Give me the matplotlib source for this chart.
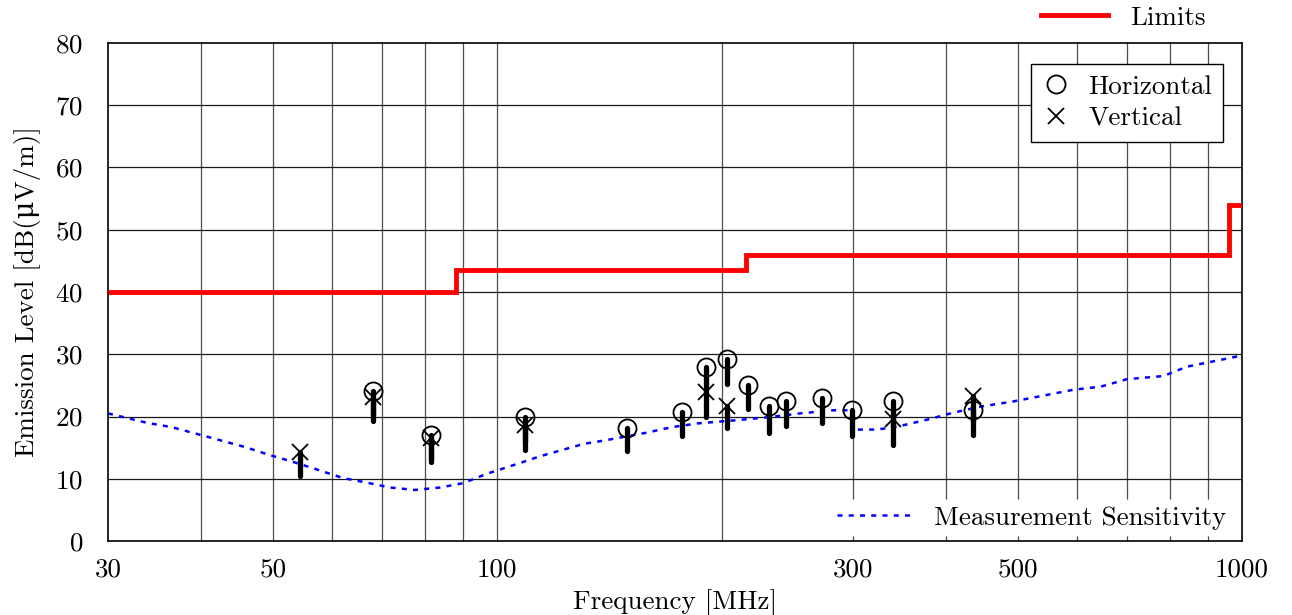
import numpy as np
import matplotlib.pyplot as plt
from matplotlib.lines import Line2D

plt.rcParams['font.family'] = ['cmr10', 'DejaVu Serif']
plt.rcParams['axes.formatter.use_mathtext'] = True
plt.rcParams['font.size'] = 19.5

# limit line (step edges in MHz, level in dB(uV/m))
lim_edges = [30, 88, 216, 960, 1000]
lim_levels = [40, 43.5, 46, 54]

# measurement sensitivity
sens_f = [30, 33.8, 36.5, 39.5, 42.4, 45.8, 49.5, 53.2, 57.2, 62.1, 66.7, 71.7, 77.5,
          83.8, 90, 96.8, 108.3, 114, 130.6, 140, 158.6, 171.7, 186, 209, 232, 255,
          282.7, 299, 300, 322, 338, 348, 378, 409, 446, 492, 594, 646, 701, 784,
          843, 910, 981, 1000]
sens_v = [20.5, 19.0, 18.3, 17.2, 16.2, 15.1, 13.8, 12.7, 11.5, 10.1, 9.4, 8.6, 8.2,
          8.6, 9.3, 10.8, 12.7, 13.6, 15.6, 16.2, 17.4, 18.3, 18.9, 19.4, 19.9, 20.5,
          21.0, 21.0, 17.9, 17.9, 18.2, 18.5, 19.5, 20.6, 21.6, 22.4, 24.3, 24.8, 26.0,
          26.5, 28.0, 28.8, 29.6, 29.9]

# horizontal polarisation
h_f = [68.0, 81.5, 108.9, 149.3, 176.9, 190.7, 203.6, 217.3, 231.9, 244.1, 272.7,
       299.2, 340.2, 435.9]
h_v = [24.1, 17.0, 19.9, 18.1, 20.8, 28.0, 29.2, 25.1, 21.7, 22.5, 22.9, 21.0, 22.5, 21.0]
h_low = [20.2, 13.1, 16.0, 14.4, 16.9, 24.0, 25.2, 21.2, 17.4, 18.4, 18.9, 16.9, 18.5, 17.0]

# vertical polarisation
v_f = [54.3, 68.0, 81.5, 108.9, 190.7, 203.6, 340.2, 435.9]
v_v = [14.3, 23.2, 16.6, 18.6, 24.0, 21.7, 19.6, 23.3]
v_low = [10.4, 19.3, 12.7, 14.7, 19.9, 18.1, 15.4, 19.3]

x_ticks = [30, 50, 100, 300, 500, 1000]

fig = plt.figure(figsize=(12.92, 6.15), dpi=100)
ax = fig.add_axes([0.0836, 0.1203, 0.8777, 0.8098])

ax.set_xscale('log')
ax.set_xlim(30, 1000)
ax.set_ylim(0, 80)

# grid
grid_x = list(range(40, 100, 10)) + list(range(100, 1000, 100))
for g in grid_x:
    ax.axvline(g, color='0.3', lw=0.9, zorder=0)
for g in range(10, 80, 10):
    ax.axhline(g, color='0.1', lw=0.9, zorder=0)

ax.xaxis.set_major_locator(plt.FixedLocator(x_ticks))
ax.xaxis.set_minor_locator(plt.NullLocator())
ax.set_xticks(x_ticks)
ax.set_xticklabels([str(t) for t in x_ticks])
ax.set_yticks(range(0, 90, 10))
ax.tick_params(axis='x', length=0, pad=12)
ax.tick_params(axis='y', length=0, pad=18)
for s in ax.spines.values():
    s.set_linewidth(1.2)

ax.stairs(lim_levels, lim_edges, baseline=None, color='red', lw=3.5, zorder=3)
ax.plot(sens_f, sens_v, color='blue', lw=1.8, dashes=(2, 2.5), zorder=2)

bars = ax.vlines(h_f, h_low, h_v, color='black', lw=3.8, zorder=4)
bars.set_capstyle('round')
bars = ax.vlines(v_f, v_low, v_v, color='black', lw=3.8, zorder=4)
bars.set_capstyle('round')
ax.plot(h_f, h_v, 'o', ms=13, mfc='none', mec='black', mew=1.3, zorder=5)
ax.plot(v_f, v_v, 'x', ms=12, mec='black', mew=1.3, zorder=5)

ax.set_xlabel('Frequency [MHz]', labelpad=6)
ax.set_ylabel('Emission Level [dB(μV/m)]', labelpad=10)

h_handle = Line2D([], [], ls='none', marker='o', ms=13, mfc='none', mec='black', mew=1.3)
v_handle = Line2D([], [], ls='none', marker='x', ms=12, mec='black', mew=1.3)
leg1 = ax.legend([h_handle, v_handle], ['Horizontal', 'Vertical'], loc='upper right',
                 bbox_to_anchor=(0.983, 0.958), fancybox=False, edgecolor='black',
                 framealpha=1, handlelength=1.0, handletextpad=0.7, borderpad=0.4,
                 labelspacing=0.3, borderaxespad=0)
leg1.get_frame().set_linewidth(1.0)
ax.add_artist(leg1)

s_handle = Line2D([], [], color='blue', lw=1.8, dashes=(2, 2.5))
leg2 = ax.legend([s_handle], ['Measurement Sensitivity'], loc='lower right',
                 bbox_to_anchor=(1.003, -0.015), frameon=True, fancybox=False,
                 edgecolor='white', framealpha=1, handlelength=2.8, borderpad=0.2)
ax.add_artist(leg2)

l_handle = Line2D([], [], color='red', lw=3.5)
fig.legend([l_handle], ['Limits'], loc='upper right', bbox_to_anchor=(0.952, 1.03),
           frameon=False, handlelength=2.5)

fig.savefig('out.png', dpi=100)
